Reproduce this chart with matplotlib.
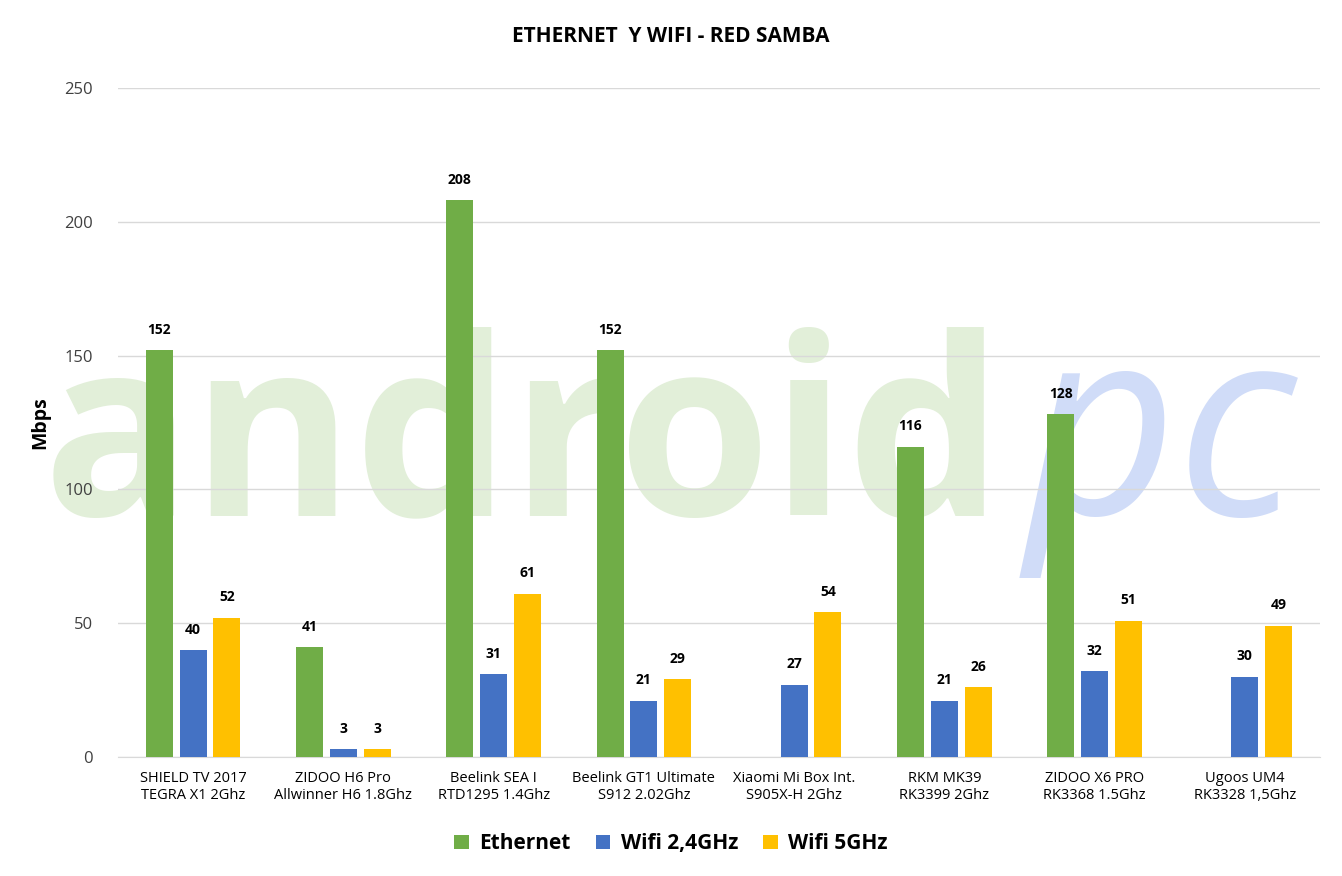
import matplotlib
matplotlib.use("Agg")
import matplotlib.pyplot as plt
import numpy as np

categories = ["SHIELD TV 2017\nTEGRA X1 2Ghz", "ZIDOO H6 Pro\nAllwinner H6 1.8Ghz", "Beelink SEA I\nRTD1295 1.4Ghz",
              "Beelink GT1 Ultimate\nS912 2.02Ghz", "Xiaomi Mi Box Int.\nS905X-H 2Ghz", "RKM MK39\nRK3399 2Ghz",
              "ZIDOO X6 PRO\nRK3368 1.5Ghz", "Ugoos UM4\nRK3328 1,5Ghz"]
ethernet = [152, 41, 208, 152, np.nan, 116, 128, np.nan]
wifi24 = [40, 3, 31, 21, 27, 21, 32, 30]
wifi5 = [52, 3, 61, 29, 54, 26, 51, 49]
series = [("Ethernet", ethernet, "#70ad47"), ("Wifi 2,4GHz", wifi24, "#4472c4"), ("Wifi 5GHz", wifi5, "#ffc000")]

plt.rcParams['font.family'] = ['Open Sans', 'DejaVu Sans']
fig = plt.figure(figsize=(13.42, 8.76), dpi=100)
ax = fig.add_axes([118/1342, 1-757/876, 1202/1342, 669/876])

# watermark (behind everything)
ax.text(0.39, 0.412, "android", transform=fig.transFigure, fontsize=178, color="#e2efd9",
        ha="center", va="baseline", fontweight="bold", zorder=0.1, clip_on=False)
ax.text(0.865, 0.412, "pc", transform=fig.transFigure, fontsize=190, color="#d0dcf8",
        ha="center", va="baseline", style="italic", zorder=0.1, clip_on=False)

x = np.arange(len(categories))
w = 0.18
offs = [-0.225, 0, 0.225]
for (name, vals, col), o in zip(series, offs):
    v = np.array(vals, dtype=float)
    ax.bar(x + o, v, w, color=col, label=name, zorder=3)
    for xi, vi in zip(x, v):
        if not np.isnan(vi):
            ax.text(xi + o, vi + 5, f"{int(vi)}", ha="center", va="bottom", fontsize=10,
                    fontweight="bold", color="black", zorder=4)

ax.set_xlim(-0.5, len(categories) - 0.5)
ax.set_ylim(0, 250)
ax.set_yticks(range(0, 251, 50))
ax.yaxis.grid(True, color="#d9d9d9", linewidth=1)
ax.set_axisbelow(True)
for s in ["top", "right", "left"]:
    ax.spines[s].set_visible(False)
ax.spines["bottom"].set_color("#d9d9d9")
ax.tick_params(length=0, labelsize=12, colors="#404040")
ax.tick_params(axis="y", pad=18)
ax.set_xticks(x)
ax.set_xticklabels(categories, fontsize=10.5, color="black")
ax.tick_params(axis="x", pad=10)
ax.set_ylabel("Mbps", fontsize=14, fontweight="bold", labelpad=10)
fig.text(0.5, 0.958, "ETHERNET  Y WIFI - RED SAMBA", ha="center", va="center",
         fontsize=15, fontweight="bold")
fig.legend(loc="center", bbox_to_anchor=(0.5, 0.037), ncol=3, frameon=False,
           handlelength=0.7, handleheight=0.7, columnspacing=1.2, handletextpad=0.5,
           prop={"weight": "bold", "size": 15})
fig.savefig("out.png", dpi=100, facecolor="white")
